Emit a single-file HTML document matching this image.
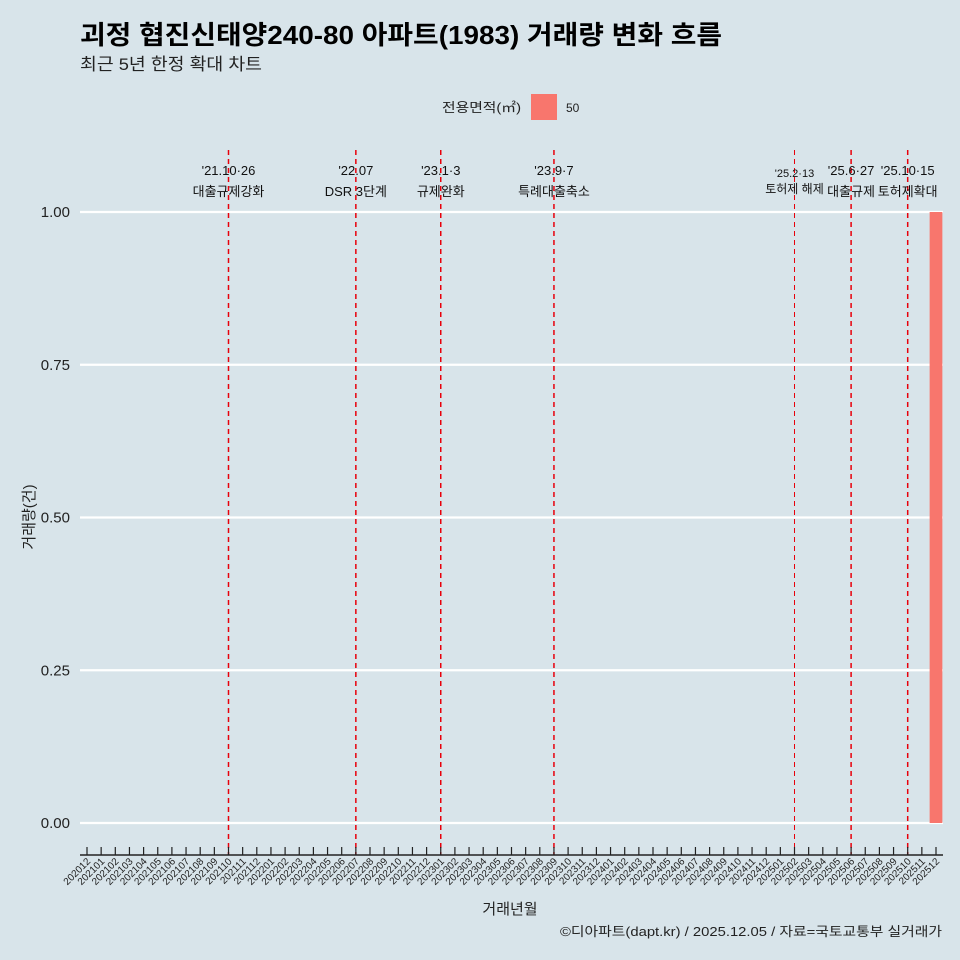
<!DOCTYPE html>
<html><head><meta charset="utf-8"><style>
body{margin:0;background:#d8e4ea;}
svg{display:block;font-family:"Liberation Sans","Noto Sans CJK KR",sans-serif;}
</style></head><body>
<svg id="chart" width="960" height="960" viewBox="0 0 960 960">
<rect width="960" height="960" fill="#d8e4ea"/>
<text x="80" y="44" font-size="26" font-weight="bold" fill="#000" textLength="642" lengthAdjust="spacingAndGlyphs">괴정 협진신태양240-80 아파트(1983) 거래량 변화 흐름</text>
<text x="80" y="70" font-size="17" fill="#222" textLength="182" lengthAdjust="spacingAndGlyphs">최근 5년 한정 확대 차트</text>
<g>
<text x="442" y="112" font-size="13" fill="#222" textLength="79" lengthAdjust="spacingAndGlyphs">전용면적(㎡)</text>
<rect x="531" y="94" width="26" height="26" fill="#f8766d"/>
<text x="566" y="112" font-size="12" fill="#222">50</text>
</g>
<g id="grid"></g><g id="vlines"></g><g id="bars"></g><g id="xaxis"></g><g id="yaxis"></g>
<text x="510" y="914" font-size="15" text-anchor="middle" fill="#222">거래년월</text>
<text transform="translate(34,517) rotate(-90)" font-size="15" text-anchor="middle" fill="#222">거래량(건)</text>
<text x="560" y="936" font-size="13" fill="#222" textLength="382" lengthAdjust="spacingAndGlyphs">©디아파트(dapt.kr) / 2025.12.05 / 자료=국토교통부 실거래가</text>
</svg>
<script>
const categories=[];for(let y=2020;y<=2025;y++)for(let m=1;m<=12;m++){const k=y*100+m;if(k>=202012&&k<=202512)categories.push(String(k));}
const barCats=["202512"];
const barValues=[1];
const yTicks=[0,0.25,0.5,0.75,1];
const yTickLabels=["0.00","0.25","0.50","0.75","1.00"];
const eventCats=["202110","202207","202301","202309","202502","202506","202510"];
const eventDates=["'21.10·26","'22.07","'23.1·3","'23.9·7","'25.2·13","'25.6·27","'25.10·15"];
const eventLabels=["대출규제강화","DSR 3단계","규제완화","특례대출축소","토허제 해제","대출규제","토허제확대"];
const NS="http://www.w3.org/2000/svg";
const x0=87,step=(936-87)/60;
const xs=c=>x0+categories.indexOf(c)*step;
const ys=v=>823-v*(823-212);
function mk(p,t,a){const e=document.createElementNS(NS,t);for(const k in a)e.setAttribute(k,a[k]);document.getElementById(p).appendChild(e);return e;}
yTicks.forEach((v,i)=>{
 const l=mk('grid','line',{x1:80,x2:943,y1:ys(v),y2:ys(v),stroke:'#fff','stroke-width':2.2});
 
 
 const t=mk('yaxis','text',{x:70,y:ys(v)+5,'font-size':15,'text-anchor':'end',fill:'#222'});t.textContent=yTickLabels[i];
 
 
});
eventCats.forEach((c,i)=>{
 const x=xs(c);
 const l=mk('vlines','line',{x1:x,x2:x,y1:150,y2:855,stroke:'#e8000b','stroke-width':i==4?1:1.5,'stroke-dasharray':'5,4'});
 
 
 const small=i==4;
 const t1=mk('vlines','text',{x:x,y:small?177:175,'font-size':small?11:13,'text-anchor':'middle',fill:'#111'});t1.textContent=eventDates[i];
 
 
 const t2=mk('vlines','text',{x:x,y:small?193:196,'font-size':small?12:13,'text-anchor':'middle',fill:'#111'});t2.textContent=eventLabels[i];
 
 
});
barCats.forEach((c,i)=>{
 const w=step*0.9;
 const r=mk('bars','rect',{x:xs(c)-w/2,y:ys(barValues[i]),width:w,height:ys(0)-ys(barValues[i]),fill:'#f8766d'});
 
 
});
const ax=mk('xaxis','line',{x1:80,x2:943,y1:855,y2:855,stroke:'#222','stroke-width':1.5});


categories.forEach(c=>{
 const x=xs(c);
 const tk=mk('xaxis','line',{x1:x,x2:x,y1:847,y2:855,stroke:'#222','stroke-width':1.2});
 
 
 const t=mk('xaxis','text',{transform:`translate(${x+4},862) rotate(-45)`,'font-size':10,'text-anchor':'end',fill:'#222'});t.textContent=c;
 
 
});
</script>
</body></html>
